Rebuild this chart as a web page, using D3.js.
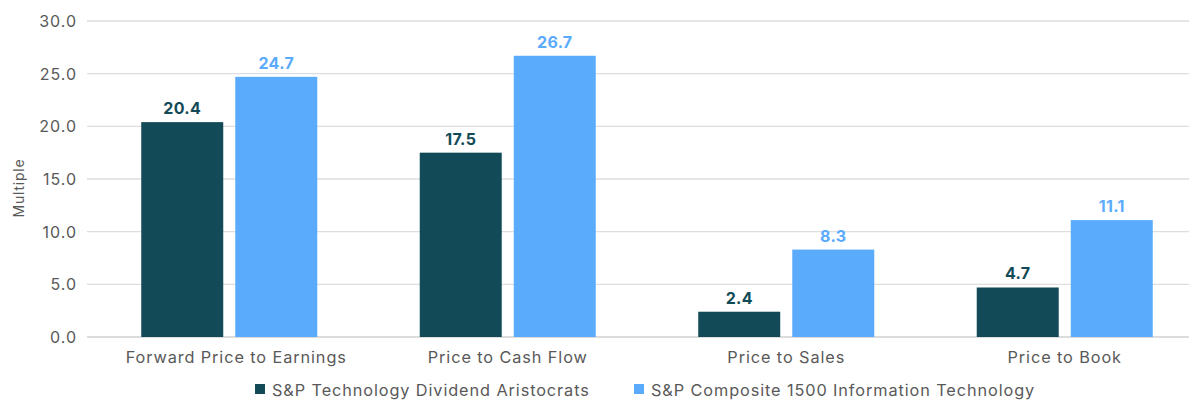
<!DOCTYPE html>
<html><head><meta charset="utf-8">
<script src="https://cdn.jsdelivr.net/npm/d3@7"></script>
<style>body{margin:0;background:#fff}svg{display:block}text{font-family:Inter,"Noto Sans",sans-serif}</style>
</head><body><svg id="c" width="1189" height="401"></svg>
<script>
const categories = ["Forward Price to Earnings","Price to Cash Flow","Price to Sales","Price to Book"];
const seriesNames = ["S&P Technology Dividend Aristocrats","S&P Composite 1500 Information Technology"];
const aristocrats = [20.4, 17.5, 2.4, 4.7];
const composite = [24.7, 26.7, 8.3, 11.1];
const yTicks = [0,5,10,15,20,25,30];
const colors = ["#124B57","#5BABFD"];

const svg = d3.select("#c");
const y = d3.scaleLinear().domain([0,30]).range([337,21]);
const x0 = d3.scaleBand().domain(categories).range([90,1204]).paddingInner(0.368).paddingOuter(0.184);
const x1 = d3.scaleBand().domain(seriesNames).range([0,x0.bandwidth()]).paddingInner(0.128);
const values = [aristocrats, composite];

// gridlines
svg.append("g").selectAll("line").data(yTicks).join("line")
  .attr("x1",87).attr("x2",1189).attr("y1",d=>y(d)).attr("y2",d=>y(d))
  .attr("stroke",d=>d===0?"#d0d0d0":"#dedede").attr("stroke-width",1.3);
svg.append("g").selectAll("text").data(yTicks).join("text")
  .attr("x",77).attr("y",d=>y(d)+6).attr("text-anchor","end")
  .attr("font-size",16).attr("letter-spacing","1px").attr("fill","#595959").text(d=>d.toFixed(1));
svg.append("text").attr("transform","translate(24,188) rotate(-90)")
  .attr("text-anchor","middle").attr("font-size",14).attr("letter-spacing","0.8px").attr("fill","#595959").text("Multiple");

const g = svg.append("g").selectAll("g").data(categories).join("g")
  .attr("transform",d=>`translate(${x0(d)},0)`);
g.selectAll("rect").data((d,i)=>seriesNames.map((s,j)=>({s,j,v:values[j][i]}))).join("rect")
  .attr("x",d=>x1(d.s)).attr("width",x1.bandwidth())
  .attr("y",d=>y(d.v)).attr("height",d=>y(0)-y(d.v)).attr("fill",d=>colors[d.j]);
g.selectAll("text.v").data((d,i)=>seriesNames.map((s,j)=>({s,j,v:values[j][i]}))).join("text")
  .attr("class","v").attr("x",d=>x1(d.s)+x1.bandwidth()/2).attr("y",d=>y(d.v)-8)
  .attr("text-anchor","middle").attr("font-size",16).attr("font-weight",700).attr("letter-spacing","0.3px")
  .attr("fill",d=>colors[d.j]).text(d=>d.v.toFixed(1));

svg.append("g").selectAll("text").data(categories).join("text")
  .attr("x",d=>x0(d)+x0.bandwidth()/2).attr("dx",(d,i)=>i===0?7:0).attr("y",363).attr("text-anchor","middle")
  .attr("font-size",16.3).attr("letter-spacing","0.9px").attr("fill","#595959").text(d=>d);

const legX = [255, 634];
const leg = svg.append("g").selectAll("g").data(seriesNames).join("g")
  .attr("transform",(d,i)=>`translate(${legX[i]},384)`);
leg.append("rect").attr("width",10).attr("height",10).attr("fill",(d,i)=>colors[i]);
leg.append("text").attr("x",17).attr("y",12).attr("font-size",16.3).attr("letter-spacing","0.9px").attr("fill","#595959").text(d=>d);
</script></body></html>
